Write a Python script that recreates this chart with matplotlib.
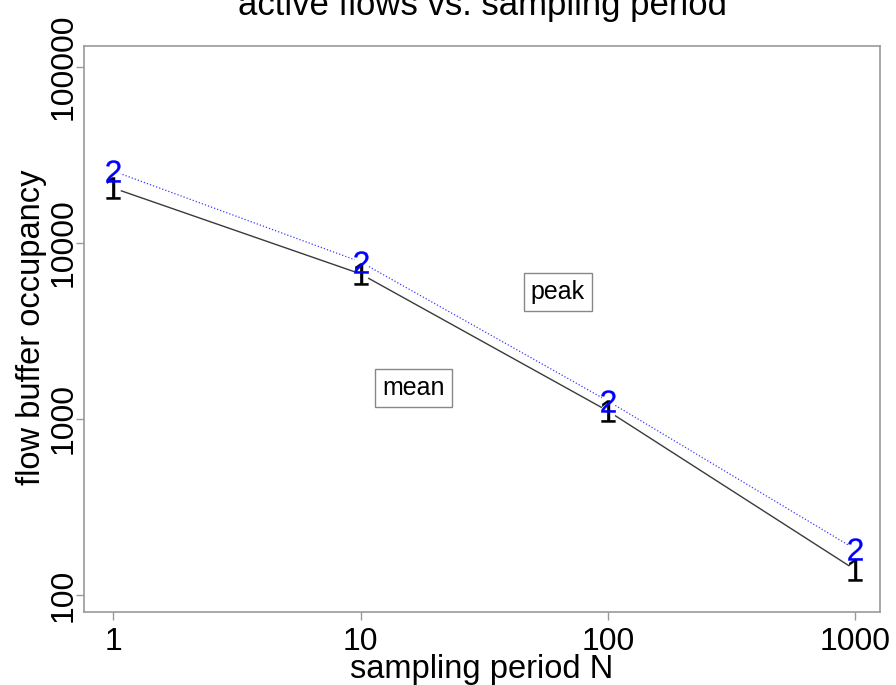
import matplotlib
matplotlib.use('Agg')
import matplotlib.pyplot as plt

# ---- data -------------------------------------------------------------
sampling_period = [1, 10, 100, 1000]
mean_occupancy = [20500, 6670, 1110, 139]
peak_occupancy = [25600, 7800, 1265, 182]

x_ticks = [1, 10, 100, 1000]
x_tick_labels = ['1', '10', '100', '1000']
y_ticks = [100, 1000, 10000, 100000]
y_tick_labels = ['100', '1000', '10000', '100000']

title = 'active flows vs. sampling period'
x_label = 'sampling period N'
y_label = 'flow buffer occupancy'

label_names = ['peak', 'mean']
label_x = [62.6, 16.4]
label_y = [5250, 1500]

# ---- style ------------------------------------------------------------
plt.rcParams['font.family'] = ['Liberation Sans', 'DejaVu Sans']
plt.rcParams['mathtext.fontset'] = 'custom'
plt.rcParams['mathtext.rm'] = 'Liberation Sans'

W, H = 896, 685
fig = plt.figure(figsize=(W / 100, H / 100), dpi=100)
left, right, top, bottom = 84, 880, 46, 612
ax = fig.add_axes([left / W, 1 - bottom / H, (right - left) / W, (bottom - top) / H])

ax.set_xscale('log')
ax.set_yscale('log')
ax.set_xlim(0.761, 1260)
ax.set_ylim(80.0, 131500)

# lines
ax.plot(sampling_period, mean_occupancy, color='#3a3a3a', lw=1.0, zorder=2)
ax.plot(sampling_period, peak_occupancy, color='#3a3aff', lw=0.9,
        ls=(0, (1, 1.6)), zorder=2)
# gaps around the points (type="b" look)
for series in (mean_occupancy, peak_occupancy):
    ax.plot(sampling_period, series, ls='none', marker='o', ms=11,
            mfc='white', mec='none', zorder=3)
# character markers
ax.plot(sampling_period, mean_occupancy, ls='none', marker=r'$\mathrm{1}$',
        ms=16, color='black', mew=0.2, zorder=4)
ax.plot(sampling_period, peak_occupancy, ls='none', marker=r'$\mathrm{2}$',
        ms=16, color='#0000ff', mew=0.2, zorder=5)

# boxed labels
for name, lx, ly in zip(label_names, label_x, label_y):
    ax.text(lx, ly, name, ha='center', va='center', fontsize=18,
            bbox=dict(boxstyle='square,pad=0.28', fc='white', ec='#888888', lw=1.0),
            zorder=6)

# axes
ax.set_xticks(x_ticks)
ax.set_xticklabels(x_tick_labels)
ax.set_yticks(y_ticks)
ax.set_yticklabels(y_tick_labels)
ax.minorticks_off()
ax.tick_params(axis='both', direction='out', length=6, width=1.0,
               color='#999999', labelsize=23, labelcolor='black')
ax.tick_params(axis='x', pad=5)
ax.tick_params(axis='y', pad=-2)
for lbl in ax.get_yticklabels():
    lbl.set_rotation(90)
    lbl.set_va('center')
for sp in ax.spines.values():
    sp.set_color('#999999')
    sp.set_linewidth(1.2)

ax.set_title(title, fontsize=25, pad=22)
ax.set_xlabel(x_label, fontsize=23.5)
ax.xaxis.set_label_coords(0.5, -(654 - 612) / (bottom - top))
ax.set_ylabel(y_label, fontsize=23.5)
ax.yaxis.set_label_coords((47 - left) / (right - left), (bottom - 327) / (bottom - top))

fig.savefig('out.png', dpi=100, facecolor='white')
